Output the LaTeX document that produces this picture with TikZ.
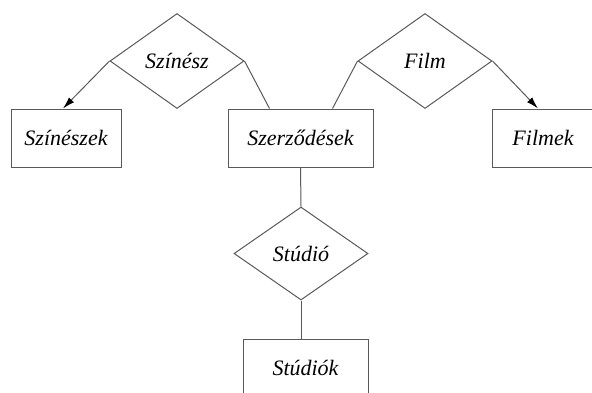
\documentclass[tikz,border=0pt]{standalone}
\usepackage{fontspec}
\setmainfont{Liberation Serif}
\usetikzlibrary{shapes.geometric,arrows.meta}
\tikzset{
  entity/.style = {draw=black!65, line width=0.5pt, minimum height=29pt, inner sep=0pt, font=\fontsize{11}{13}\selectfont\itshape},
  relation/.style = {draw=black!65, line width=0.5pt, diamond, minimum width=67pt, minimum height=47.5pt, inner sep=0pt, font=\fontsize{11}{13}\selectfont\itshape},
  conn/.style = {draw=black!65, line width=0.5pt},
  tip/.style = {-{Latex[length=6pt, width=3.5pt, color=black]}}
}
\begin{document}
\begin{tikzpicture}[x=0.5pt, y=-0.5pt]
                   \useasboundingbox (0,0) rectangle (592,392);
                   
                   \node[relation] (szinesz) at (177,61) {Színész};
                   \node[relation] (film) at (425,61) {Film};
                   \node[relation, minimum height=46.5pt] (studio) at (301,253.5) {Stúdió};
                   
                   \node[entity, minimum width=55pt] (szineszek) at (66,138) {Színészek};
                   \node[entity, minimum width=72.5pt] (szerzodesek) at (300.5,138) {Szerződések};
                   \node[entity, minimum width=51pt] (filmek) at (543,138) {Filmek};
                   \node[entity, minimum width=62.5pt] (studiok) at (305.5,368) {Stúdiók};
                   
                   \draw[conn, tip] (szinesz.west) -- ([xshift=-1.5pt]szineszek.north);
                   \draw[conn] (szinesz.east) -- ([xshift=21pt]szerzodesek.north west);
                   \draw[conn] (film.west) -- ([xshift=-20.5pt]szerzodesek.north east);
                   \draw[conn, tip] (film.east) -- ([xshift=-2.5pt]filmek.north);
                   \draw[conn] (szerzodesek.south) -- (studio.north);
                   \draw[conn] (studio.south) -- (studio.south |- studiok.north);
                   
\end{tikzpicture}
\end{document}
